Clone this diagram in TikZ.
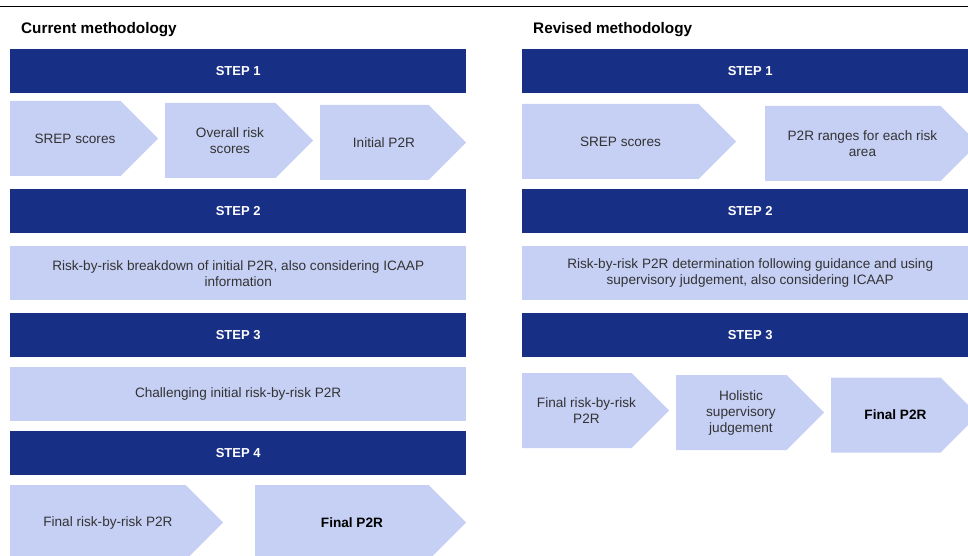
\documentclass[tikz,border=0pt]{standalone}
\usepackage{fontspec}
\setmainfont{Liberation Sans}
\usetikzlibrary{shapes.symbols}

\definecolor{navy}{HTML}{182F86}
\definecolor{pale}{HTML}{C6D0F5}
\definecolor{ink}{HTML}{333333}

\tikzset{
  heading/.style={font=\fontsize{15.3}{18}\selectfont\bfseries, anchor=west, inner sep=0},
  stepbar/.style={fill=navy, text=white, font=\fontsize{13}{15}\selectfont\bfseries,
    minimum width=456, minimum height=44, inner sep=0, anchor=north west},
  infobox/.style={fill=pale, text=ink, font=\fontsize{13.6}{16}\selectfont, align=center,
    minimum width=456, minimum height=54, inner sep=0, anchor=north west},
  chev/.style={signal, signal to=east, signal pointer angle=90, fill=pale,
    minimum height=75, inner sep=0, anchor=west},
  chevtext/.style={text=ink, font=\fontsize{13.6}{16}\selectfont, align=center, inner sep=0},
  chevbold/.style={chevtext, font=\fontsize{13.6}{16}\selectfont\bfseries, text=black}
}

\begin{document}
\begin{tikzpicture}[x=1pt,y=-1pt]
  \useasboundingbox (0,0) rectangle (968,556);
  \clip (0,0) rectangle (968,556);
  \draw[line width=1] (0,7) -- (968,7);

  % current methodology
  \node[heading] (curtitle) at (21,29.5) {Current methodology};
  \node[stepbar] (cstep1) at (10,49) {STEP 1};
  \node[chev, minimum width=148] (csrep) at (10,138.5) {};
  \node[chev, minimum width=148] (coverall) at (165,140.5) {};
  \node[chev, minimum width=146] (cinitial) at (320,142.5) {};
  \node[chevtext] (csreptxt) at ([xshift=9.5]csrep.center) {SREP scores};
  \node[chevtext] (coveralltxt) at ([xshift=9.5]coverall.center) {Overall risk\\scores};
  \node[chevtext] (cinitialtxt) at ([xshift=9.5]cinitial.center) {Initial P2R};
  \node[stepbar] (cstep2) at (10,189) {STEP 2};
  \node[infobox] (cbreakdown) at (10,246) {Risk-by-risk breakdown of initial P2R, also considering ICAAP\\information};
  \node[stepbar] (cstep3) at (10,313) {STEP 3};
  \node[infobox] (cchallenge) at (10,367) {Challenging initial risk-by-risk P2R};
  \node[stepbar] (cstep4) at (10,431) {STEP 4};
  \node[chev, minimum width=213] (cfinalrr) at (10,522.5) {};
  \node[chev, minimum width=211] (cfinal) at (255,522.5) {};
  \node[chevtext] (cfinalrrtxt) at ([xshift=10]cfinalrr.center) {Final risk-by-risk P2R};
  \node[chevbold] (cfinaltxt) at ([xshift=10]cfinal.center) {Final P2R};

  % revised methodology
  \node[heading] (revtitle) at (533,29.5) {Revised methodology};
  \node[stepbar] (rstep1) at (522,49) {STEP 1};
  \node[chev, minimum width=214] (rsrep) at (522,141.5) {};
  \node[chev, minimum width=213] (rranges) at (765,143.5) {};
  \node[chevtext] (rsreptxt) at ([xshift=10]rsrep.center) {SREP scores};
  \node[chevtext] (rrangestxt) at ([xshift=9.5]rranges.center) {P2R ranges for each risk\\area};
  \node[stepbar] (rstep2) at (522,189) {STEP 2};
  \node[infobox] (rdetermine) at (522,246) {Risk-by-risk P2R determination following guidance and using\\supervisory judgement, also considering ICAAP};
  \node[stepbar] (rstep3) at (522,313) {STEP 3};
  \node[chev, minimum width=147] (rfinalrr) at (522,410.5) {};
  \node[chev, minimum width=148] (rholistic) at (676,412.5) {};
  \node[chev, minimum width=147] (rfinal) at (831,415) {};
  \node[chevtext] (rfinalrrtxt) at ([xshift=9.5]rfinalrr.center) {Final risk-by-risk\\P2R};
  \node[chevtext] (rholistictxt) at ([xshift=9.5]rholistic.center) {Holistic\\supervisory\\judgement};
  \node[chevbold] (rfinaltxt) at ([xshift=9.5]rfinal.center) {Final P2R};
\end{tikzpicture}
\end{document}
